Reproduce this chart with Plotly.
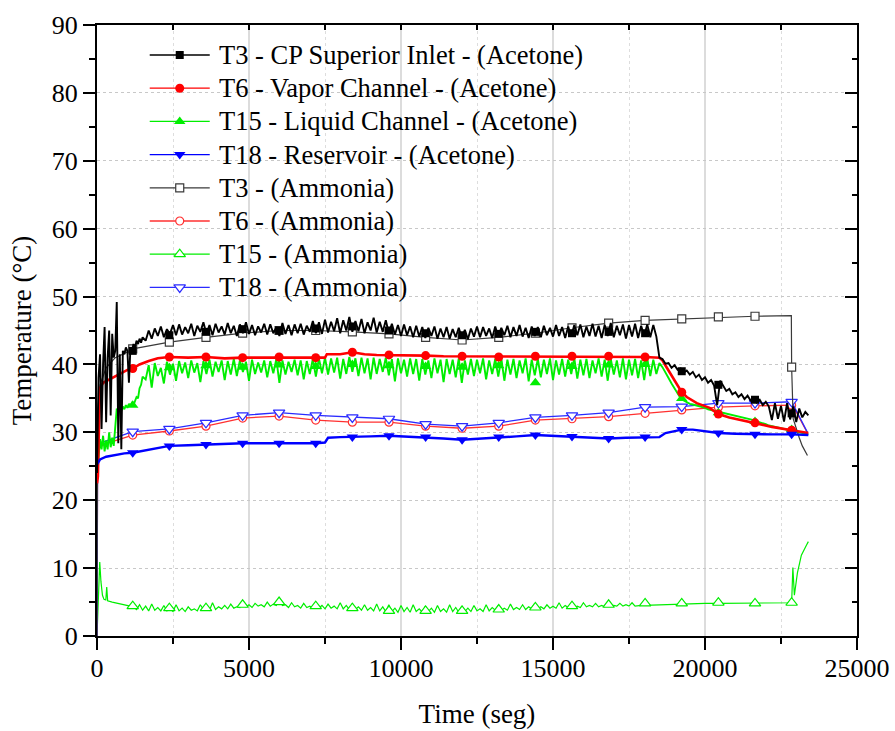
import plotly.graph_objects as go

# ---------------------------------------------------------------------------
# Sampling instants where symbols are drawn on every curve (s)
t_marks = [1175, 2380, 3585, 4790, 5990, 7195, 8400, 9605, 10810, 12010,
           13215, 14420, 15625, 16830, 18030, 19235, 20440, 21645, 22850]

# ---------------------------- Acetone ---------------------------------------
# T3 - CP superior inlet (dense record: 50 s steps, then 100 s steps)
t_t3_ace = list(range(0, 1501, 50)) + list(range(1600, 23401, 100))
t3_ace = [
    24.0, 38.0, 41.5, 30.5, 40.0, 45.5, 31.5, 41.0, 45.0, 32.5,
    44.5, 41.0, 42.0, 49.2, 28.4, 41.5, 27.5, 42.0, 41.5, 42.5,
    42.0, 37.3, 42.5, 42.0, 43.0, 42.5, 43.5, 43.0, 43.8, 43.2,
    44.0,
    43.5, 45.0, 43.8, 45.3, 44.2, 45.6, 44.0, 45.2, 44.5, 45.8,
    44.3, 45.9, 44.4, 45.5, 44.6, 46.0, 44.2, 45.7, 44.8, 46.2,
    44.5, 45.8, 44.3, 46.0, 44.7, 45.6, 44.4, 46.1, 44.6, 45.7,
    44.2, 45.9, 44.6, 46.2, 44.5, 45.8, 44.3, 45.6, 44.7, 46.0,
    44.4, 45.9, 44.6, 45.5, 44.2, 46.1, 44.5, 45.8, 44.3, 45.9,
    44.6, 46.0, 44.4, 45.7, 44.8, 46.4, 44.6, 46.2, 44.5, 46.6,
    44.7, 46.3, 44.9, 46.8, 44.6, 46.5, 45.0, 47.0, 44.8, 46.4,
    44.9, 46.7, 44.6, 46.2, 45.0, 46.9, 44.7, 46.3, 44.8, 46.5,
    44.6, 46.0, 44.4, 45.8, 44.2, 45.9, 44.3, 45.6, 44.0, 45.7,
    44.1, 45.5, 43.9, 45.4, 44.2, 45.6, 43.8, 45.3, 44.0, 45.5,
    43.8, 45.2, 44.0, 45.4, 43.9, 45.1, 43.7, 45.3, 44.1, 45.6,
    44.0, 45.5, 44.2, 45.3, 43.9, 45.6, 44.1, 45.4, 44.3, 45.7,
    44.0, 45.5, 44.2, 45.8, 44.1, 45.4, 43.9, 45.6, 44.2, 45.5,
    44.0, 45.7, 44.3, 45.4, 44.1, 45.8, 44.2, 45.5, 43.9, 45.6,
    44.1, 45.8, 44.3, 45.9, 44.0, 45.6, 44.2, 46.0, 44.1, 45.7,
    43.9, 45.8, 44.2, 46.1, 44.0, 45.7, 44.3, 45.9, 43.8, 45.8,
    44.1, 46.0, 43.9, 45.7, 44.2, 45.9, 44.0, 45.8, 44.1, 41.0,
    40.8, 40.1, 40.2, 39.5, 39.9, 39.2, 39.4, 38.8, 39.1, 38.5,
    38.9, 38.1, 38.5, 37.7, 38.1, 37.3, 37.7, 36.9, 34.0, 37.6,
    36.9, 36.1, 36.4, 35.6, 35.9, 35.2, 35.6, 34.9, 35.4, 34.7,
    35.1, 34.4, 34.8, 34.0, 34.5, 33.8, 31.8, 34.3, 32.0, 33.9,
    31.6, 34.3, 31.9, 33.8, 31.5, 33.5, 32.2, 33.0, 32.5,
]
t3_ace_marks = [42.0, 44.3, 44.8, 45.2, 45.0, 45.3, 45.6, 45.0, 44.6, 44.3,
                44.5, 44.8, 44.6, 44.8, 44.6, 39.0, 37.0, 34.8, 32.8]

# T6 - vapor channel
t_t6_ace = [0, 30, 60, 100, 200, 400, 600, 800, 1000, 1175,
            1400, 1700, 2000, 2380, 3000, 3585, 4200, 4790, 5400, 5990,
            6600, 7195, 7500, 7560, 8000, 8400, 8800, 9200, 9605, 10200,
            10810, 11400, 12010, 12600, 13215, 13800, 14420, 15000, 15625, 16200,
            16830, 17400, 18030, 18500, 18600, 18720, 18930, 19100, 19235, 19400,
            19730, 20150, 20440, 20800, 21200, 21645, 22200, 22850, 23400]
t6_ace = [22.5, 23.5, 30.0, 36.5, 37.3, 37.8, 38.3, 38.8, 39.2, 39.4,
          40.0, 40.5, 40.9, 41.1, 41.0, 41.1, 40.9, 41.0, 41.0, 41.1,
          41.0, 41.0, 41.0, 41.5, 41.5, 41.8, 41.5, 41.4, 41.4, 41.3,
          41.3, 41.2, 41.2, 41.1, 41.1, 41.2, 41.2, 41.1, 41.2, 41.1,
          41.2, 41.1, 41.1, 41.0, 40.6, 39.7, 38.2, 37.0, 35.9, 35.2,
          34.3, 33.6, 32.7, 32.2, 31.8, 31.4, 30.8, 30.3, 29.9]
t6_ace_marks = [39.4, 41.1, 41.1, 41.0, 41.1, 41.0, 41.8, 41.4, 41.3, 41.2,
                41.1, 41.2, 41.2, 41.2, 41.1, 35.9, 32.7, 31.4, 30.3]

# T15 - liquid channel (dense record)
t_t15_ace = list(range(0, 1501, 50)) + list(range(1600, 23401, 100))
t15_ace = [
    23.5, 27.0, 29.0, 27.5, 29.5, 27.2, 28.8, 27.5, 30.0, 27.8,
    29.2, 28.0, 30.5, 33.5, 33.0, 33.6, 33.2, 33.8, 33.4, 34.0,
    33.6, 34.2, 33.8, 34.3, 34.0, 34.6, 35.2, 35.0, 36.5, 37.0,
    38.2,
    37.8, 39.9, 36.6, 40.2, 38.3, 39.5, 37.2, 40.4, 38.5, 40.1,
    37.6, 40.5, 38.7, 40.3, 38.0, 40.6, 38.8, 40.2, 37.4, 40.5,
    38.6, 40.7, 38.2, 40.4, 38.9, 40.6, 37.7, 40.5, 38.5, 40.8,
    38.3, 40.6, 38.9, 40.4, 37.6, 40.7, 38.6, 40.3, 38.8, 40.6,
    38.1, 40.5, 38.7, 40.8, 37.3, 40.6, 38.5, 40.4, 38.9, 40.7,
    38.4, 40.6, 37.8, 40.5, 38.6, 40.8, 38.2, 40.9, 38.7, 41.0,
    38.5, 40.9, 38.8, 41.0, 37.9, 40.8, 38.6, 41.1, 38.9, 40.9,
    38.3, 41.0, 38.7, 40.9, 37.8, 41.0, 38.6, 40.8, 38.9, 41.0,
    38.4, 40.8, 37.5, 40.9, 38.7, 40.7, 38.2, 40.9, 38.6, 40.8,
    37.6, 40.8, 38.5, 40.6, 38.0, 40.9, 38.7, 40.7, 37.4, 40.8,
    38.6, 40.7, 38.1, 40.9, 37.3, 40.6, 38.5, 40.8, 38.3, 40.7,
    38.7, 40.9, 37.8, 40.6, 38.6, 40.8, 38.2, 40.9, 37.6, 40.7,
    38.5, 40.8, 38.0, 40.6, 38.7, 40.9, 37.5, 40.7, 38.4, 40.8,
    38.1, 40.7, 38.6, 40.9, 37.7, 40.6, 38.5, 40.8, 38.2, 40.7,
    38.6, 40.9, 37.9, 40.7, 38.4, 40.8, 38.0, 40.6, 38.7, 40.9,
    38.2, 40.7, 37.6, 40.8, 38.5, 40.6, 38.1, 40.9, 37.8, 40.7,
    38.4, 40.8, 38.0, 40.6, 37.7, 40.9, 38.3, 40.7, 38.6, 40.2,
    39.6, 38.9, 38.0, 37.2, 36.4, 35.6, 35.0, 34.7, 34.4, 34.2,
    34.1, 34.0, 33.8, 33.7, 33.6, 33.4, 33.3, 33.1, 33.0, 32.9,
    32.8, 32.7, 32.6, 32.5, 32.4, 32.3, 32.2, 32.1, 32.0, 31.9,
    31.8, 31.6, 31.5, 31.3, 31.2, 31.0, 30.9, 30.8, 30.7, 30.6,
    30.5, 30.4, 30.3, 30.2, 30.1, 30.0, 29.9, 29.8, 29.7,
]
t15_ace_marks = [34.0, 39.5, 39.8, 39.6, 39.9, 39.7, 40.0, 39.8, 39.7, 39.6,
                 39.8, 37.3, 39.7, 39.9, 40.0, 35.0, 32.9, 31.6, 30.4]

# T18 - reservoir
t_t18_ace = [0, 100, 300, 600, 900, 1175, 1800, 2380, 3000, 3585,
             4200, 4790, 5400, 5990, 6600, 7195, 7500, 7600, 8000, 8400,
             9000, 9605, 10200, 10810, 11400, 12010, 12600, 13215, 13800, 14420,
             15000, 15625, 16200, 16830, 17400, 18030, 18500, 18700, 19235, 19600,
             20000, 20440, 21000, 21645, 22200, 22850, 23400]
t18_ace = [25.3, 26.0, 26.4, 26.7, 26.9, 27.0, 27.5, 28.0, 28.1, 28.2,
           28.3, 28.4, 28.4, 28.4, 28.3, 28.4, 28.5, 29.2, 29.3, 29.3,
           29.4, 29.5, 29.4, 29.3, 29.1, 28.9, 29.1, 29.3, 29.4, 29.6,
           29.5, 29.4, 29.2, 29.1, 29.2, 29.3, 29.3, 29.9, 30.4, 30.4,
           30.2, 29.9, 29.8, 29.7, 29.7, 29.7, 29.6]
t18_ace_marks = [27.0, 28.0, 28.2, 28.4, 28.4, 28.4, 29.3, 29.5, 29.3, 28.9,
                 29.3, 29.6, 29.4, 29.1, 29.3, 30.4, 29.9, 29.7, 29.7]

# ---------------------------- Ammonia ---------------------------------------
t_t3_amm = [0, 20, 100, 300, 600, 900, 1175, 2380, 3585, 4790,
            5990, 7195, 8400, 9605, 10810, 12010, 13215, 14420, 15625, 16830,
            18030, 19235, 20440, 21645, 22840, 22850, 22900, 23000, 23100, 23200,
            23300, 23370]
t3_amm = [0.0, 33.0, 37.0, 39.5, 41.0, 41.6, 42.3, 43.3, 44.0, 44.6,
          45.0, 45.0, 44.8, 44.5, 44.0, 43.6, 44.0, 44.6, 45.4, 46.1,
          46.5, 46.7, 47.0, 47.1, 47.2, 39.6, 32.0, 30.5, 29.2, 28.0,
          27.2, 26.6]
t3_amm_marks = [42.3, 43.3, 44.0, 44.6, 45.0, 45.0, 44.8, 44.5, 44.0, 43.6,
                44.0, 44.6, 45.4, 46.1, 46.5, 46.7, 47.0, 47.1, 39.6]

t_amm_head = [0, 20, 60, 150, 400, 700]
t_amm_tail = [23000, 23200, 23370]

t6_amm_head = [0.0, 27.0, 27.6, 28.0, 28.5, 28.9]
t6_amm_marks = [29.6, 30.2, 30.9, 32.1, 32.4, 31.8, 31.5, 31.5, 30.9, 30.6,
                30.9, 31.8, 32.0, 32.3, 32.8, 33.3, 33.7, 33.9, 34.0]
t6_amm_tail = [33.0, 31.4, 29.9]

t18_amm_head = [0.0, 27.5, 28.2, 28.5, 28.9, 29.4]
t18_amm_marks = [30.1, 30.5, 31.4, 32.5, 32.9, 32.5, 32.2, 32.0, 31.2, 30.9,
                 31.4, 32.2, 32.5, 32.9, 33.7, 33.8, 34.3, 34.3, 34.5]
t18_amm_tail = [33.2, 31.5, 30.0]

# T15 ammonia: start transient, noisy plateau (100 s steps), end transient
t_t15_amm = ([0, 90, 130, 180, 230, 290, 320, 350, 500, 700, 900, 1100]
             + list(range(1200, 18001, 100))
             + [18500, 19000, 19500, 20000, 20500, 21000, 21500, 22000, 22500,
                22850, 22890, 22940, 23040, 23170, 23340, 23400])
t15_amm = [
    0.0, 10.9, 8.0, 6.0, 5.4, 5.3, 7.2, 5.2, 5.0, 4.8, 4.6, 4.4,
    4.3, 3.9, 4.6, 3.8, 4.4, 3.7, 4.7, 3.8, 4.2, 3.7,
    4.5, 3.7, 4.0, 3.6, 4.6, 3.7, 4.1, 3.6, 4.3, 3.8,
    4.0, 3.7, 4.6, 3.9, 4.2, 3.8, 4.9, 3.9, 4.3, 4.0,
    4.5, 4.0, 4.7, 4.1, 4.3, 4.2, 5.0, 4.3, 4.6, 4.2,
    4.8, 4.4, 4.6, 4.3, 5.0, 4.4, 4.7, 4.5, 5.6, 4.5,
    4.6, 4.2, 4.9, 4.3, 4.5, 4.1, 4.8, 4.2, 4.4, 4.1,
    4.9, 4.1, 4.5, 4.0, 4.7, 4.1, 4.4, 4.0, 4.9, 4.0,
    4.5, 3.9, 4.8, 3.9, 4.3, 3.8, 4.6, 3.8, 4.2, 3.7,
    4.7, 3.7, 4.3, 3.6, 4.6, 3.6, 4.1, 3.5, 4.5, 3.6,
    4.2, 3.5, 4.6, 3.6, 4.0, 3.5, 4.4, 3.6, 4.1, 3.5,
    4.5, 3.6, 4.0, 3.5, 4.6, 3.6, 4.2, 3.5, 4.4, 3.6,
    4.1, 3.6, 4.5, 3.7, 4.0, 3.6, 4.6, 3.7, 4.2, 3.8,
    4.5, 3.8, 4.1, 3.8, 4.7, 3.9, 4.2, 3.9, 4.6, 3.9,
    4.3, 4.0, 4.8, 4.0, 4.3, 4.0, 4.6, 4.1, 4.4, 4.1,
    4.9, 4.1, 4.5, 4.2, 4.7, 4.2, 4.4, 4.2, 4.9, 4.3,
    4.5, 4.3, 4.8, 4.3, 4.5, 4.3, 4.9, 4.4, 4.5, 4.4,
    4.8, 4.4, 4.6, 4.4, 4.9, 4.4, 4.5, 4.5, 4.5,
    4.6, 4.7, 4.7, 4.8, 4.8, 4.8, 4.8, 4.8, 4.9,
    4.9, 10.1, 6.0, 9.3, 11.9, 13.4, 13.9,
]
t15_amm_marks = [4.4, 4.1, 4.1, 4.6, 5.0, 4.4, 4.1, 3.7, 3.7, 3.7,
                 3.9, 4.2, 4.4, 4.6, 4.8, 4.8, 4.9, 4.8, 4.9]

t_t6_amm = t_amm_head + t_marks + t_amm_tail
t6_amm = t6_amm_head + t6_amm_marks + t6_amm_tail
t_t18_amm = t_amm_head + t_marks + t_amm_tail
t18_amm = t18_amm_head + t18_amm_marks + t18_amm_tail

# ---------------------------------------------------------------------------
BLACK, RED, GREEN, BLUE, GREY = "#000000", "#ff0000", "#00ee00", "#0000ff", "#3a3a3a"
AMM_RED, AMM_BLUE = "#ff3030", "#2a2aff"
FONT = "Liberation Serif"

series = [
    # name, t, values, marker values, colour, line width, symbol, size, filled
    ("T15 - (Ammonia)", t_t15_amm, t15_amm, t15_amm_marks, GREEN, 1.2, "triangle-up", 10, False),
    ("T6 - (Ammonia)", t_t6_amm, t6_amm, t6_amm_marks, AMM_RED, 1.3, "circle", 8, False),
    ("T18 - (Ammonia)", t_t18_amm, t18_amm, t18_amm_marks, AMM_BLUE, 1.3, "triangle-down", 10, False),
    ("T3 - (Ammonia)", t_t3_amm, t3_amm, t3_amm_marks, GREY, 1.2, "square", 8, False),
    ("T15 - Liquid Channel - (Acetone)", t_t15_ace, t15_ace, t15_ace_marks, GREEN, 1.9, "triangle-up", 10, True),
    ("T6 - Vapor Channel - (Acetone)", t_t6_ace, t6_ace, t6_ace_marks, RED, 2.6, "circle", 9, True),
    ("T18 - Reservoir - (Acetone)", t_t18_ace, t18_ace, t18_ace_marks, BLUE, 2.4, "triangle-down", 10, True),
    ("T3 - CP Superior Inlet - (Acetone)", t_t3_ace, t3_ace, t3_ace_marks, BLACK, 1.9, "square", 8, True),
]

fig = go.Figure()
for name, t, v, mv, col, lw, sym, ms, filled in series:
    fig.add_trace(go.Scatter(x=t, y=v, mode="lines", name=name,
                             line=dict(color=col, width=lw), showlegend=False,
                             hoverinfo="skip"))
    fig.add_trace(go.Scatter(
        x=t_marks, y=mv, mode="markers", name=name, showlegend=False,
        marker=dict(symbol=sym, size=ms, color=col if filled else "white",
                    line=dict(color=col, width=0 if filled else 1.2)),
        hoverinfo="skip"))

# empty traces so the mirrored frame axes get drawn
fig.add_trace(go.Scatter(x=[None], y=[None], xaxis="x2", yaxis="y", showlegend=False))
fig.add_trace(go.Scatter(x=[None], y=[None], xaxis="x", yaxis="y2", showlegend=False))

# ---------------------------- key (drawn on a pixel-scaled overlay) ---------
legend_items = [
    ("T3 - CP Superior Inlet - (Acetone)", BLACK, "square", 8, True),
    ("T6 - Vapor Channel - (Acetone)", RED, "circle", 9, True),
    ("T15 - Liquid Channel - (Acetone)", GREEN, "triangle-up", 10, True),
    ("T18 - Reservoir - (Acetone)", BLUE, "triangle-down", 10, True),
    ("T3 - (Ammonia)", GREY, "square", 8, False),
    ("T6 - (Ammonia)", AMM_RED, "circle", 8, False),
    ("T15 - (Ammonia)", GREEN, "triangle-up", 10, False),
    ("T18 - (Ammonia)", AMM_BLUE, "triangle-down", 10, False),
]
key_x0, key_x1, key_text_x = 150, 210, 217
key_y0, key_dy = 55, 33.2
annotations = []
for i, (label, col, sym, ms, filled) in enumerate(legend_items):
    yk = key_y0 + key_dy * i
    fig.add_trace(go.Scatter(x=[key_x0, key_x1], y=[yk, yk], mode="lines",
                             line=dict(color=col, width=1.3),
                             xaxis="x3", yaxis="y3", showlegend=False, hoverinfo="skip"))
    fig.add_trace(go.Scatter(x=[(key_x0 + key_x1) / 2], y=[yk], mode="markers",
                             marker=dict(symbol=sym, size=ms,
                                         color=col if filled else "white",
                                         line=dict(color=col, width=0 if filled else 1.2)),
                             xaxis="x3", yaxis="y3", showlegend=False, hoverinfo="skip"))
    annotations.append(dict(x=key_text_x, y=yk, xref="x3", yref="y3", text=label,
                            showarrow=False, xanchor="left", yanchor="middle",
                            font=dict(family=FONT, size=26.5, color="black")))

tick_font = dict(family=FONT, size=26, color="black")
title_font = dict(family=FONT, size=27, color="black")

fig.update_layout(
    width=895, height=731,
    margin=dict(l=97, r=38, t=25, b=95, autoexpand=False),
    paper_bgcolor="white", plot_bgcolor="white",
    font=dict(family=FONT, color="black"),
    showlegend=False,
    annotations=annotations,
    xaxis=dict(
        range=[0, 25000], tick0=0, dtick=5000, tickformat="d",
        ticks="outside", ticklen=12, tickwidth=2, tickcolor="black",
        ticklabelstandoff=-4, automargin=False,
        showline=True, linewidth=2, linecolor="black", zeroline=False,
        showgrid=True, gridcolor="#dcdcdc", gridwidth=1.5,
        minor=dict(dtick=2500, ticks="outside", ticklen=6, tickwidth=2,
                   tickcolor="black", showgrid=True, gridcolor="#dddddd",
                   griddash="dot", gridwidth=1),
        tickfont=tick_font,
        title=dict(text="Time (seg)", font=title_font, standoff=22),
    ),
    yaxis=dict(
        range=[0, 90], tick0=0, dtick=10, automargin=False,
        ticks="outside", ticklen=12, tickwidth=2, tickcolor="black",
        showline=True, linewidth=2, linecolor="black", zeroline=False,
        showgrid=True, gridcolor="#c8c8c8", gridwidth=1, griddash="dot",
        minor=dict(dtick=5, ticks="outside", ticklen=6, tickwidth=2,
                   tickcolor="black", showgrid=False),
        tickfont=tick_font,
        title=dict(text="Temperature (°C)", font=title_font, standoff=12),
    ),
    xaxis2=dict(
        overlaying="x", side="top", anchor="y", range=[0, 25000], dtick=5000,
        ticks="inside", ticklen=5, tickwidth=2, tickcolor="black", automargin=False,
        showticklabels=False, showline=True, linewidth=2, linecolor="black",
        showgrid=False, zeroline=False,
        minor=dict(dtick=2500, ticks="inside", ticklen=5, tickwidth=2, tickcolor="black"),
    ),
    yaxis2=dict(
        overlaying="y", side="right", anchor="x", range=[0, 90], dtick=10,
        ticks="inside", ticklen=12, tickwidth=2, tickcolor="black", automargin=False,
        showticklabels=False, showline=True, linewidth=2, linecolor="black",
        showgrid=False, zeroline=False,
        minor=dict(dtick=5, ticks="inside", ticklen=5, tickwidth=2, tickcolor="black"),
    ),
    xaxis3=dict(overlaying="x", anchor="y3", range=[97.3, 857], visible=False),
    yaxis3=dict(overlaying="y", anchor="x3", range=[636, 25], visible=False),
)

fig.write_html("out.html")
